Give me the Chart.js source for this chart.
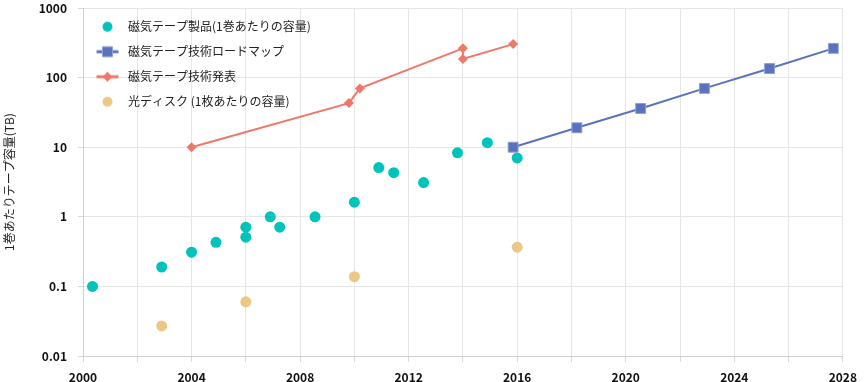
<!DOCTYPE html>
<html><head><meta charset="utf-8">
<script src="https://cdn.jsdelivr.net/npm/chart.js@4.4.1/dist/chart.umd.min.js"></script>
<style>html,body{margin:0;padding:0;background:#fff;}#wrap{width:865px;height:382px;position:relative;}canvas{display:block;}</style>
</head><body><div id="wrap"><canvas id="c" width="865" height="382" style="width:865px;height:382px"></canvas></div>
<script>
const seriesNames = ['磁気テープ製品(1巻あたりの容量)', '磁気テープ技術ロードマップ', '磁気テープ技術発表', '光ディスク (1枚あたりの容量)'];
const productYears  = [2000.35, 2002.9, 2004.0, 2004.9, 2006.0, 2006.0, 2006.9, 2007.25, 2008.55, 2010.0, 2010.9, 2011.45, 2012.55, 2013.8, 2014.9, 2016.0];
const productValues = [0.1, 0.19, 0.31, 0.43, 0.71, 0.51, 1.0, 0.71, 1.0, 1.62, 5.1, 4.3, 3.1, 8.3, 11.6, 7.0];
const roadmapYears  = [2015.85, 2018.2, 2020.55, 2022.9, 2025.3, 2027.65];
const roadmapValues = [10, 19, 36, 70, 135, 263];
const demoYears     = [2004.0, 2009.8, 2010.2, 2014.0, 2014.0, 2015.85];
const demoValues    = [10, 43, 70, 263, 185, 303];
const opticalYears  = [2002.9, 2006.0, 2010.0, 2016.0];
const opticalValues = [0.027, 0.06, 0.138, 0.366];
const yTickValues = [0.01, 0.1, 1, 10, 100, 1000];
const yTickLabels = ['0.01', '0.1', '1', '10', '100', '1000'];
const xTickLabelYears = [2000, 2004, 2008, 2012, 2016, 2020, 2024, 2028];
const yAxisTitle = '1巻あたりテープ容量(TB)';

const colors = { teal: '#00C4BA', blue: '#5A72BD', red: '#EF7868', tan: '#EBC885' };
const FONT = '"Noto Sans CJK JP", "Noto Sans", sans-serif';

function pts(xs, ys) { return xs.map((x, i) => ({ x: x, y: ys[i] })); }

function legendIcon(kind, color, border) {
  const c = document.createElement('canvas');
  c.width = 30; c.height = 14;
  const g = c.getContext('2d');
  const cx = 13.5, cy = 7;
  if (kind !== 'circle') {
    g.strokeStyle = color; g.lineWidth = 3;
    g.beginPath(); g.moveTo(cx - 11, cy); g.lineTo(cx + 11, cy); g.stroke();
  }
  g.fillStyle = color;
  g.beginPath();
  if (kind === 'circle') { g.arc(cx, cy, 5, 0, Math.PI * 2); g.fill(); }
  else if (kind === 'rect') { g.rect(cx - 5, cy - 5, 10, 10); g.fill(); if (border) { g.strokeStyle = border; g.lineWidth = 1; g.stroke(); } }
  else { g.moveTo(cx - 5, cy); g.lineTo(cx, cy - 5); g.lineTo(cx + 5, cy); g.lineTo(cx, cy + 5); g.closePath(); g.fill(); }
  return c;
}
const icons = [
  legendIcon('circle', colors.teal),
  legendIcon('rect', colors.blue, '#8E9FD6'),
  legendIcon('diamond', colors.red),
  legendIcon('circle', colors.tan)
];

new Chart(document.getElementById('c'), {
  type: 'scatter',
  data: {
    datasets: [
      { label: seriesNames[0], data: pts(productYears, productValues), showLine: false,
        backgroundColor: colors.teal, borderColor: colors.teal, pointRadius: 5.5, pointBorderWidth: 0, order: 1 },
      { label: seriesNames[1], data: pts(roadmapYears, roadmapValues), showLine: true,
        backgroundColor: colors.blue, borderColor: colors.blue, borderWidth: 2,
        pointStyle: 'rect', pointRadius: 7, pointBackgroundColor: colors.blue, pointBorderColor: '#8E9FD6', pointBorderWidth: 1, order: 0 },
      { label: seriesNames[2], data: pts(demoYears, demoValues), showLine: true,
        backgroundColor: colors.red, borderColor: colors.red, borderWidth: 2,
        pointStyle: 'rectRot', pointRadius: 5, pointBorderWidth: 0, order: 2 },
      { label: seriesNames[3], data: pts(opticalYears, opticalValues), showLine: false,
        backgroundColor: colors.tan, borderColor: colors.tan, pointRadius: 5.5, pointBorderWidth: 0, order: 3 }
    ]
  },
  options: {
    responsive: false,
    animation: false,
    devicePixelRatio: 1,
    layout: { padding: { left: 0, top: 0, right: 16.7, bottom: 0 } },
    plugins: {
      tooltip: { enabled: false },
      legend: {
        position: 'chartArea',
        align: 'start',
        title: { display: true, text: ' ', padding: { top: 6.5, bottom: 0 }, font: { size: 1 } },
        labels: {
          usePointStyle: true,
          pointStyleWidth: 26,
          padding: 13,
          color: '#222',
          font: { family: FONT, size: 12 },
          generateLabels: (chart) => chart.data.datasets.map((ds, i) => ({
            text: ds.label, pointStyle: icons[i], fillStyle: ds.backgroundColor,
            strokeStyle: ds.borderColor, lineWidth: 0, hidden: false, datasetIndex: i, fontColor: '#222'
          }))
        }
      }
    },
    scales: {
      x: {
        type: 'linear', min: 2000, max: 2028,
        afterFit: (s) => { s.height = 26; },
        ticks: {
          stepSize: 2, autoSkip: false, maxRotation: 0, padding: 8,
          color: '#111', font: { family: FONT, size: 12, weight: 'bold' },
          callback: (v) => xTickLabelYears.includes(v) ? String(v) : ''
        },
        grid: { color: '#e6e6e6', tickLength: 6, tickColor: '#d8d8d8' },
        border: { color: '#d0d0d0' }
      },
      y: {
        type: 'logarithmic', min: 0.01, max: 1000,
        afterFit: (s) => { s.width = 83; s.paddingTop = 6.7; },
        afterBuildTicks: (s) => { s.ticks = yTickValues.map(v => ({ value: v, major: true })); },
        ticks: {
          padding: 11, color: '#111', font: { family: FONT, size: 12, weight: 'bold' },
          callback: (v) => { const i = yTickValues.indexOf(v); return i >= 0 ? yTickLabels[i] : ''; }
        },
        grid: { color: '#e6e6e6', tickLength: 5, tickColor: '#d8d8d8' },
        border: { color: '#d0d0d0' },
        title: { display: true, text: yAxisTitle, color: '#222', font: { family: FONT, size: 12 }, padding: { top: 2, bottom: 0 } }
      }
    }
  }
});
</script></body></html>
